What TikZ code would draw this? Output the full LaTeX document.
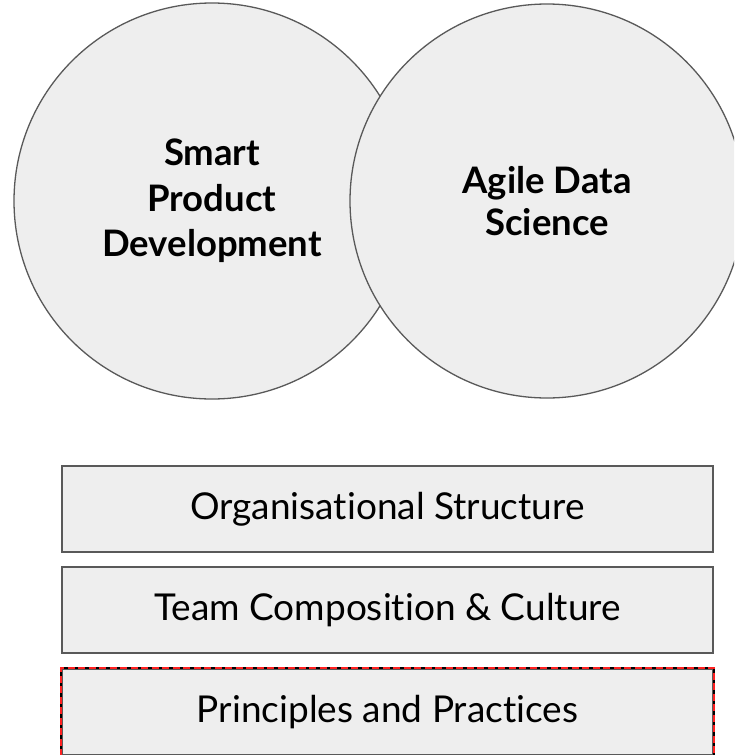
\documentclass[tikz,border=0pt]{standalone}
\usepackage{fontspec}
\setmainfont{Lato}[Ligatures=NoCommon]
\definecolor{panelfill}{HTML}{EEEEEE}
\definecolor{edgegray}{HTML}{595959}
\definecolor{markred}{HTML}{FF2020}
\begin{document}
\begin{tikzpicture}[x=1pt,y=-1pt,
  venn/.style={circle, draw=edgegray, line width=1.3pt, fill=panelfill,
    inner sep=0pt, align=center},
  layer/.style={rectangle, draw=edgegray, line width=2pt, fill=panelfill,
    minimum width=651pt, minimum height=86pt, inner sep=0pt,
    font=\fontsize{37}{42}\selectfont},
]
\useasboundingbox (0,0) rectangle (734,755);
\clip (0,0) rectangle (734,755);
% the two overlapping circles; the right one is drawn on top
\node[venn, minimum size=396pt, font=\fontsize{36.5}{45.5}\selectfont\bfseries]
  (spd) at (212,201) {Smart\\Product\\Development};
\node[venn, minimum size=394pt, font=\fontsize{36.5}{42.5}\selectfont\bfseries]
  (ads) at (547,201) {Agile Data\\Science};
% the stacked layers below
\node[layer] (org)  at (387.5,509) {Organisational Structure};
\node[layer] (team) at (387.5,610) {Team Composition \& Culture};
\node[layer] (pp)   at (387.5,712) {Principles and Practices};
% highlighted outline of the bottom layer
\draw[black, line width=2pt] (pp.south west) -- (pp.north west) -- (pp.north east) -- (pp.south east);
\draw[markred, line width=2pt, dash pattern=on 7pt off 3.5pt]
  (pp.south west) -- (pp.north west) -- (pp.north east) -- (pp.south east);
\end{tikzpicture}
\end{document}
